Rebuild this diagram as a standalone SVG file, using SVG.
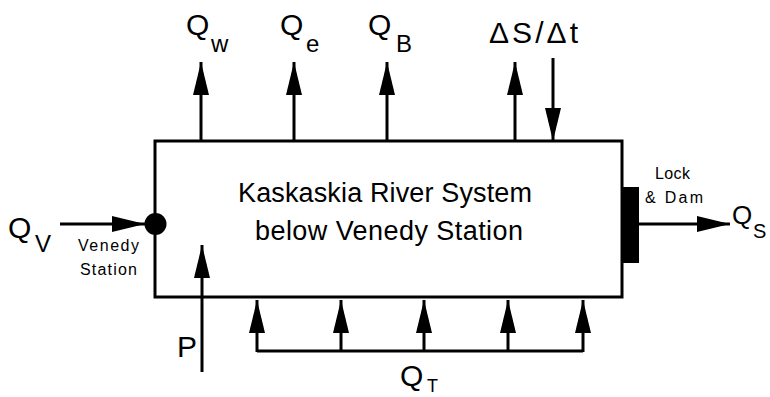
<svg xmlns="http://www.w3.org/2000/svg" width="770" height="397" viewBox="0 0 770 397">
<defs>
<marker id="ah" viewBox="0 0 33 16" refX="33" refY="8" markerWidth="33" markerHeight="16" orient="auto" markerUnits="userSpaceOnUse">
<path d="M0,0 L33,8 L0,16 Z" fill="#000"/>
</marker>
</defs>
<style>
.ln{stroke:#000;stroke-width:3;fill:none}
.ar{stroke:#000;stroke-width:3;fill:none;marker-end:url(#ah)}
text{font-family:"Liberation Sans",Arial,sans-serif;fill:#000}
.q{font-size:30px}
.sub{font-size:24px}
.main{font-size:27px}
.sm{font-size:16px}
</style>
<rect width="770" height="397" fill="#fff"/>
<g id="system">
<rect class="ln" x="155" y="141" width="467" height="156"/>
<text class="main" x="385" y="202" text-anchor="middle" textLength="294">Kaskaskia River System</text>
<text class="main" x="389" y="240" text-anchor="middle" textLength="268">below Venedy Station</text>
</g>
<g id="venedy-station">
<circle cx="155.5" cy="224" r="11" fill="#000"/>
<text class="sm" x="78" y="251" textLength="61">Venedy</text>
<text class="sm" x="80" y="275" textLength="57">Station</text>
</g>
<g id="lock-dam">
<rect x="622" y="187" width="17" height="76" fill="#000"/>
<text class="sm" x="655" y="179" textLength="35">Lock</text>
<text class="sm" x="645" y="203" textLength="58">&amp; Dam</text>
</g>
<g id="labels">
<text class="q" x="186" y="35">Q</text><text class="sub" x="211" y="52">w</text>
<text class="q" x="280" y="35">Q</text><text class="sub" x="306" y="52">e</text>
<text class="q" x="368" y="35">Q</text><text class="sub" x="396" y="52">B</text>
<text class="q" x="489" y="43" textLength="89">ΔS/Δt</text>
<text class="q" x="8" y="238">Q</text><text class="sub" x="35" y="252">V</text>
<text x="732" y="224" style="font-size:26px">Q</text><text x="753" y="238" style="font-size:20px">S</text>
<text class="q" x="400" y="386">Q</text><text x="427" y="392" style="font-size:18px">T</text>
<text class="q" x="177" y="357" textLength="14">P</text>
</g>
<g id="connectors">
<line class="ar" x1="201" y1="141" x2="201" y2="62"/>
<line class="ar" x1="294" y1="141" x2="294" y2="62"/>
<line class="ar" x1="387" y1="141" x2="387" y2="62"/>
<line class="ar" x1="515" y1="141" x2="515" y2="62"/>
<line class="ar" x1="553" y1="58" x2="553" y2="141"/>
<line class="ar" x1="60" y1="224" x2="145" y2="224"/>
<line class="ar" x1="639" y1="224" x2="730" y2="224"/>
<line class="ar" x1="202" y1="372" x2="202" y2="245"/>
<path class="ln" d="M257,351 H583"/>
<line class="ar" x1="257" y1="352" x2="257" y2="300"/>
<line class="ar" x1="341" y1="352" x2="341" y2="300"/>
<line class="ar" x1="424" y1="352" x2="424" y2="300"/>
<line class="ar" x1="508" y1="352" x2="508" y2="300"/>
<line class="ar" x1="583" y1="352" x2="583" y2="300"/>
</g>
</svg>
